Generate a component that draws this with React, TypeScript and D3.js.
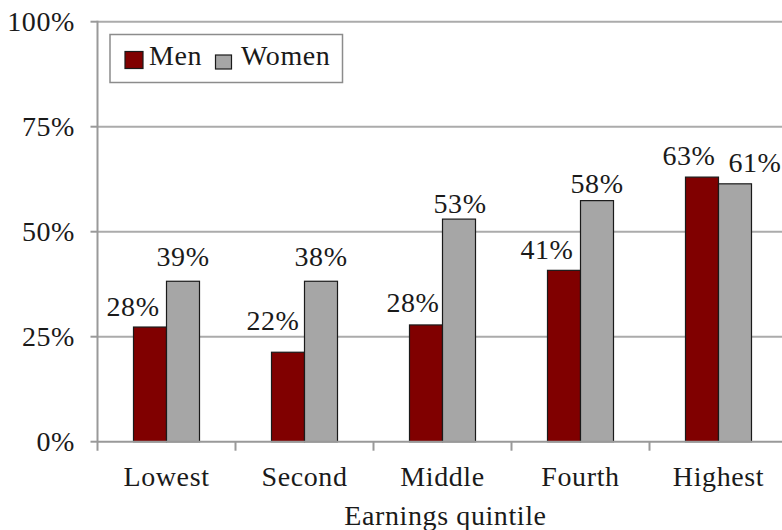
import React from "react";
import * as d3 from "d3";

const categories = ["Lowest", "Second", "Middle", "Fourth", "Highest"];
const seriesNames = ["Men", "Women"];
const menValues = [27.3, 21.3, 27.8, 40.8, 63.0];
const womenValues = [38.2, 38.2, 53.0, 57.4, 61.4];
const menLabels = ["28%", "22%", "28%", "41%", "63%"];
const womenLabels = ["39%", "38%", "53%", "58%", "61%"];
const yTicks = [0, 25, 50, 75, 100];

// label nudges (layout only)
const menLabelNudge = [[-17, -11], [-15, -22], [-13, -13], [-17, -11], [-13, -12]];
const womenLabelNudge = [[0, -15], [0, -15], [1, -6], [0, -8], [20, -12]];

const W = 782;
const H = 530;
const X0 = 97.5;
const X1 = 787.5;
const Y0 = 441.7;
const Y1 = 21.7;
const FS = 28;
const TXT: React.CSSProperties = {
  fontFamily: '"Liberation Serif", "Times New Roman", serif',
  letterSpacing: "0.6px",
};

export default function App() {
  const x = d3
    .scaleBand<string>()
    .domain(categories)
    .range([X0, X1])
    .paddingInner(0.5217)
    .paddingOuter(0.26087);
  const xs = d3.scaleBand<string>().domain(seriesNames).range([0, x.bandwidth()]);
  const y = d3.scaleLinear().domain([0, 100]).range([Y0, Y1]);
  const step = x.step();

  const series = [
    { name: "Men", values: menValues, labels: menLabels, nudge: menLabelNudge, color: "#800000" },
    { name: "Women", values: womenValues, labels: womenLabels, nudge: womenLabelNudge, color: "#a6a6a6" },
  ];

  return (
    <svg width={W} height={H} style={{ position: "absolute", left: 0, top: 0, background: "#fff" }}>
      <rect x={0} y={0} width={W} height={H} fill="#fff" />
      {yTicks.map((t) =>
        t === 0 ? null : (
          <line key={"g" + t} x1={X0} x2={W} y1={y(t)} y2={y(t)} stroke="#ababab" strokeWidth={2} />
        )
      )}
      {yTicks.map((t) => (
        <g key={"yt" + t}>
          <line x1={X0 - 7} x2={X0} y1={y(t)} y2={y(t)} stroke="#999" strokeWidth={2} />
          <text x={75} y={y(t)} dy="0.34em" textAnchor="end" fontSize={FS} fill="#1a1a1a" style={TXT}>
            {t + "%"}
          </text>
        </g>
      ))}
      {series.map((s) =>
        categories.map((c, i) => (
          <rect
            key={s.name + c}
            x={(x(c) as number) + (xs(s.name) as number)}
            y={y(s.values[i])}
            width={xs.bandwidth()}
            height={Y0 - y(s.values[i])}
            fill={s.color}
            stroke="#1a1a1a"
            strokeWidth={1.2}
          />
        ))
      )}
      <line x1={X0} x2={X0} y1={Y1 - 1} y2={Y0 + 9} stroke="#999" strokeWidth={2} />
      <line x1={X0} x2={W} y1={Y0} y2={Y0} stroke="#999" strokeWidth={2} />
      {categories.map((c, i) => (
        <line
          key={"xt" + c}
          x1={X0 + step * (i + 1)}
          x2={X0 + step * (i + 1)}
          y1={Y0}
          y2={Y0 + 9}
          stroke="#999"
          strokeWidth={2}
        />
      ))}
      {series.map((s) =>
        categories.map((c, i) => (
          <text
            key={"l" + s.name + c}
            x={(x(c) as number) + (xs(s.name) as number) + xs.bandwidth() / 2 + s.nudge[i][0]}
            y={y(s.values[i]) + s.nudge[i][1]}
            textAnchor="middle"
            fontSize={FS}
            fill="#1a1a1a"
            style={TXT}
          >
            {s.labels[i]}
          </text>
        ))
      )}
      {categories.map((c) => (
        <text
          key={"cl" + c}
          x={(x(c) as number) + x.bandwidth() / 2}
          y={486}
          textAnchor="middle"
          fontSize={FS}
          fill="#1a1a1a"
          style={TXT}
        >
          {c}
        </text>
      ))}
      <text x={(X0 + X1) / 2 + 3} y={525} textAnchor="middle" fontSize={FS} fill="#1a1a1a" style={TXT}>
        Earnings quintile
      </text>
      <rect x={110} y={34.5} width={232.5} height={48} fill="#fff" stroke="#8c8c8c" strokeWidth={1.5} />
      <rect x={125} y={51.5} width={18} height={17} fill="#800000" stroke="#1a1a1a" strokeWidth={1.2} />
      <text x={149} y={65} fontSize={FS} fill="#1a1a1a" style={TXT}>Men</text>
      <rect x={215.5} y={55} width={16} height={14} fill="#a6a6a6" stroke="#1a1a1a" strokeWidth={1.2} />
      <text x={241} y={65} fontSize={FS} fill="#1a1a1a" style={TXT}>Women</text>
    </svg>
  );
}
